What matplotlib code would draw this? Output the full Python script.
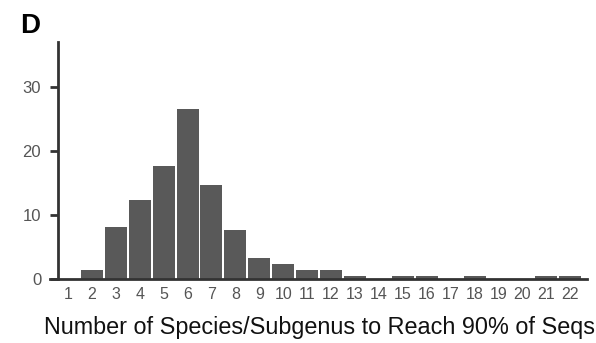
import matplotlib
matplotlib.use("Agg")
import matplotlib.pyplot as plt

plt.rcParams['font.family'] = ['Liberation Sans', 'DejaVu Sans']

categories = list(range(1, 23))
counts = [0, 1.4, 8.1, 12.3, 17.6, 26.6, 14.7, 7.7, 3.3, 2.3, 1.4, 1.4,
          0.4, 0, 0.4, 0.4, 0, 0.4, 0, 0, 0.4, 0.4]
yticks = [0, 10, 20, 30]

fig = plt.figure(figsize=(5.96, 3.43), dpi=100)
ax = fig.add_axes([50/596, 1 - 279/343, (587-50)/596, (279-42)/343])

ax.bar(categories, counts, width=0.92, color='#595959', linewidth=0)
ax.set_xlim(0.25, 22.7)
ax.set_ylim(0, 37)
ax.set_xticks(categories)
ax.set_xticklabels([str(c) for c in categories])
ax.set_yticks(yticks)

for s in ['top', 'right']:
    ax.spines[s].set_visible(False)
ax.spines['left'].set_position(('data', 0.58))
for s in ['left', 'bottom']:
    ax.spines[s].set_color('#333333')
    ax.spines[s].set_linewidth(2)
ax.tick_params(axis='x', length=0, pad=6, labelsize=11.5, labelcolor='#555555')
ax.tick_params(axis='y', length=6, width=2, color='#333333', pad=6,
               labelsize=12, labelcolor='#555555')
for lbl in ax.get_xticklabels():
    lbl.set_fontstretch('condensed')

ax.set_xlabel('Number of Species/Subgenus to Reach 90% of Seqs', fontsize=16.8,
              color='#111111', labelpad=10)
ax.xaxis.set_label_coords((320 - 50) / 537, -0.155)
fig.text(20/596, 1 - 33/343, 'D', fontsize=20, fontweight='bold')

fig.savefig('out.png', dpi=100)
